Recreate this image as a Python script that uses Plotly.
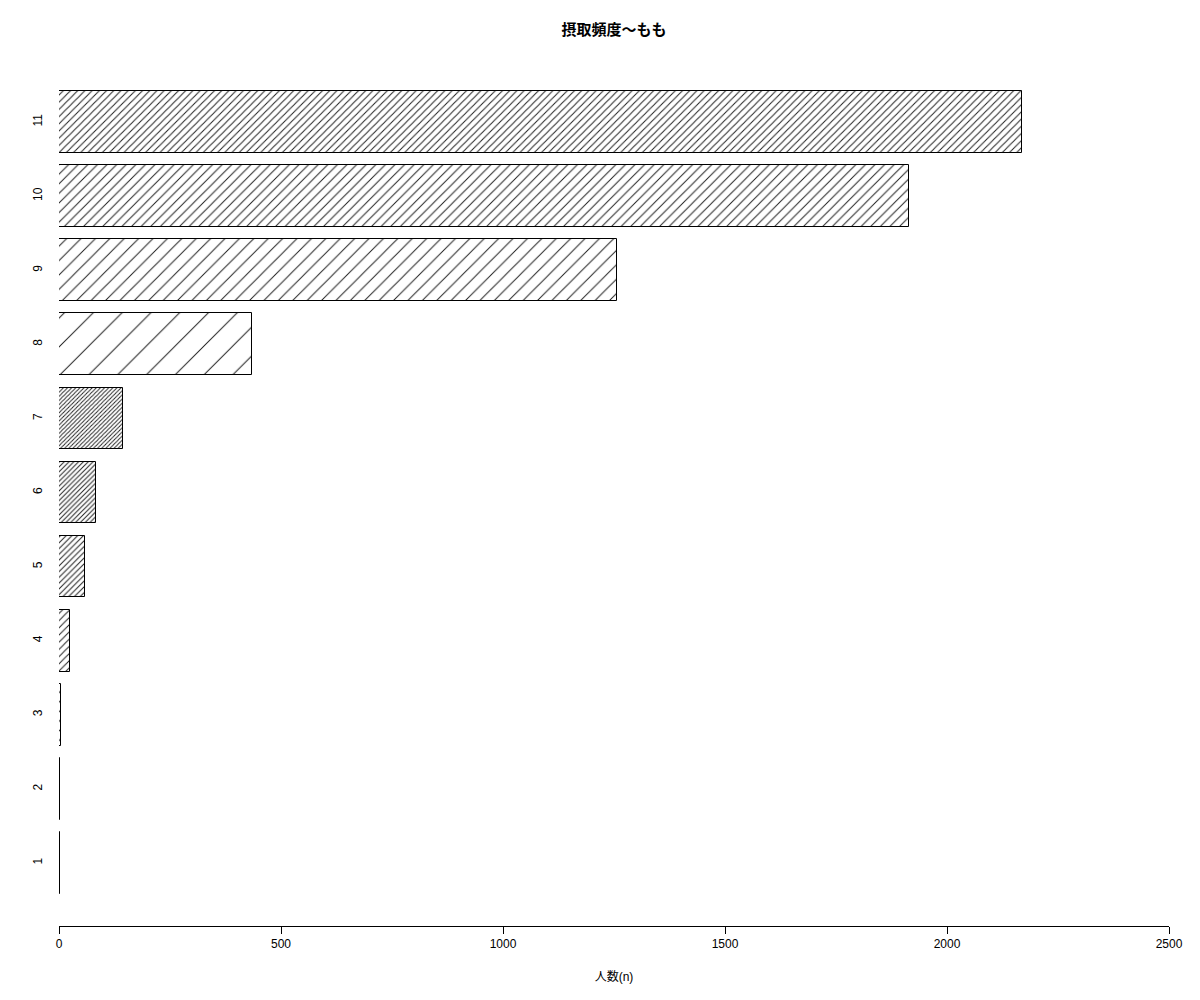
import plotly.graph_objects as go

categories = ["1", "2", "3", "4", "5", "6", "7", "8", "9", "10", "11"]
values = [2, 2, 5, 25, 59, 84, 145, 435, 1257, 1914, 2169]
densities = [5, 10, 15, 20, 25, 30, 35, 5, 10, 15, 20]
x_ticks = [0, 500, 1000, 1500, 2000, 2500]

title = "摂取頻度～もも"
x_title = "人数(n)"

positions = [0.7 + 1.2 * i for i in range(len(categories))]

font_fam = "Liberation Sans, Arial, Noto Sans CJK JP, sans-serif"

fig = go.Figure()
for pos, v, d in zip(positions, values, densities):
    size = 72 * 2 ** 0.5 / d
    fig.add_trace(go.Bar(
        x=[v], y=[pos], orientation="h", width=1.0,
        marker=dict(
            color="white",
            line=dict(color="black", width=1),
            pattern=dict(shape="/", size=size, solidity=min(0.45, 1.0 / size),
                         fgcolor="#222222", fgopacity=1, bgcolor="white",
                         fillmode="overlay"),
        ),
        showlegend=False, hoverinfo="x",
    ))

fig.update_layout(
    width=1200, height=1000,
    paper_bgcolor="white", plot_bgcolor="white",
    margin=dict(l=51, r=39, t=51, b=82),
    title=dict(text="<b>" + title + "</b>", xref="paper", x=0.5, xanchor="center",
               y=1 - 22 / 1000, yanchor="middle",
               font=dict(family=font_fam, size=15, color="black")),
    font=dict(family=font_fam, size=12, color="black"),
    bargap=0,
)
fig.update_xaxes(
    range=[0, 2500], tickvals=x_ticks, ticktext=[str(t) for t in x_ticks],
    showgrid=False, zeroline=False, showline=True, linecolor="black", linewidth=1,
    ticks="outside", ticklen=7, tickcolor="black",
    tickfont=dict(size=12, family=font_fam),
    title=dict(text=x_title, standoff=22, font=dict(size=12, family=font_fam)),
)
fig.update_yaxes(
    range=[-0.32, 13.72], tickvals=positions, ticktext=categories,
    tickangle=-90, showgrid=False, zeroline=False, showline=False,
    ticks="outside", ticklen=11, tickcolor="rgba(0,0,0,0)",
    tickfont=dict(size=12, family=font_fam),
)

fig.write_html("out.html")
